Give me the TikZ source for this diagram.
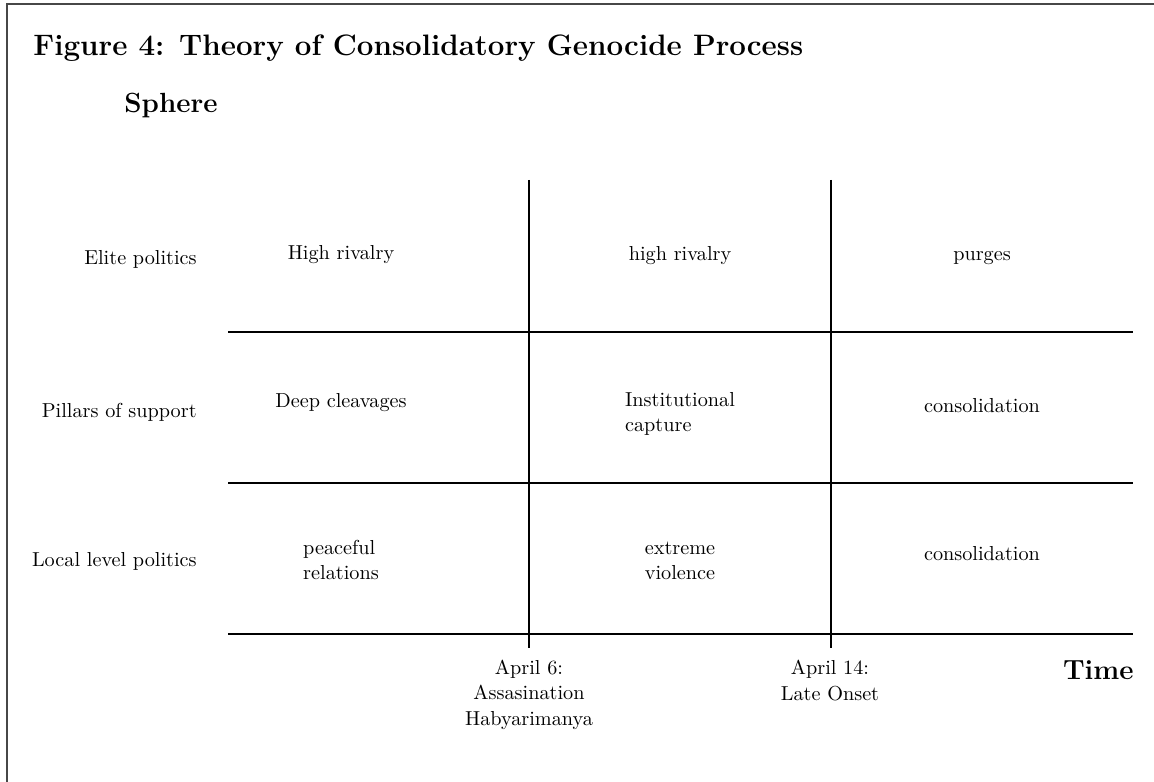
\documentclass[tikz,border=0pt]{standalone}
\begin{document}
\begin{tikzpicture}[x=0.541pt,y=-0.541pt,
  txt/.style={inner sep=0pt,font=\fontsize{10.95}{13.6}\selectfont},
  celltxt/.style={txt,anchor=base,align=left},
  rowlab/.style={txt,anchor=base east},
  datelab/.style={txt,anchor=base,align=center},
  bigbold/.style={inner sep=0pt,font=\fontsize{15}{18}\selectfont\bfseries},
  gridline/.style={line width=1pt,black},
  frame/.style={line width=1.1pt,black!72}]
\useasboundingbox (0,0) rectangle (1154,782);
% page frame
\draw[frame] (7,782) -- (7,4) -- (1154,4);
% title
\node[inner sep=0pt,anchor=base west,font=\fontsize{16}{20}\selectfont\bfseries] (title) at (33,56) {Figure 4: Theory of Consolidatory Genocide Process};
\node[bigbold,anchor=base west] (sphere) at (124,113) {Sphere};
\node[bigbold,anchor=base east] (time) at (1134,679) {Time};
% grid coordinates
\coordinate (h1l) at (228,332); \coordinate (h1r) at (1133,332);
\coordinate (h2l) at (228,483); \coordinate (h2r) at (1133,483);
\coordinate (h3l) at (228,634); \coordinate (h3r) at (1133,634);
\coordinate (v1t) at (529,180); \coordinate (v1b) at (529,648);
\coordinate (v2t) at (831,180); \coordinate (v2b) at (831,648);
\draw[gridline] (h1l) -- (h1r);
\draw[gridline] (h2l) -- (h2r);
\draw[gridline] (h3l) -- (h3r);
\draw[gridline] (v1t) -- (v1b);
\draw[gridline] (v2t) -- (v2b);
% row labels
\node[rowlab] (r1) at (197,265) {Elite politics};
\node[rowlab] (r2) at (197,417) {Pillars of support};
\node[rowlab] (r3) at (197,566) {Local level politics};
% cells (multi-line nodes are placed by the baseline of their last line)
\node[celltxt] (c11) at (341,260) {High rivalry};
\node[celltxt] (c12) at (680,260.5) {high rivalry};
\node[celltxt] (c13) at (982,260.5) {purges};
\node[celltxt] (c21) at (341,407.5) {Deep cleavages};
\node[celltxt] (c22) at (680,431.7) {Institutional\\capture};
\node[celltxt] (c23) at (982,412.5) {consolidation};
\node[celltxt] (c31) at (341,579.5) {peaceful\\relations};
\node[celltxt] (c32) at (680,579.5) {extreme\\violence};
\node[celltxt] (c33) at (982,560.5) {consolidation};
% dates
\node[datelab] (d1) at (529,725) {April 6:\\Assasination\\Habyarimanya};
\node[datelab] (d2) at (830,700) {April 14:\\Late Onset};
\end{tikzpicture}
\end{document}
